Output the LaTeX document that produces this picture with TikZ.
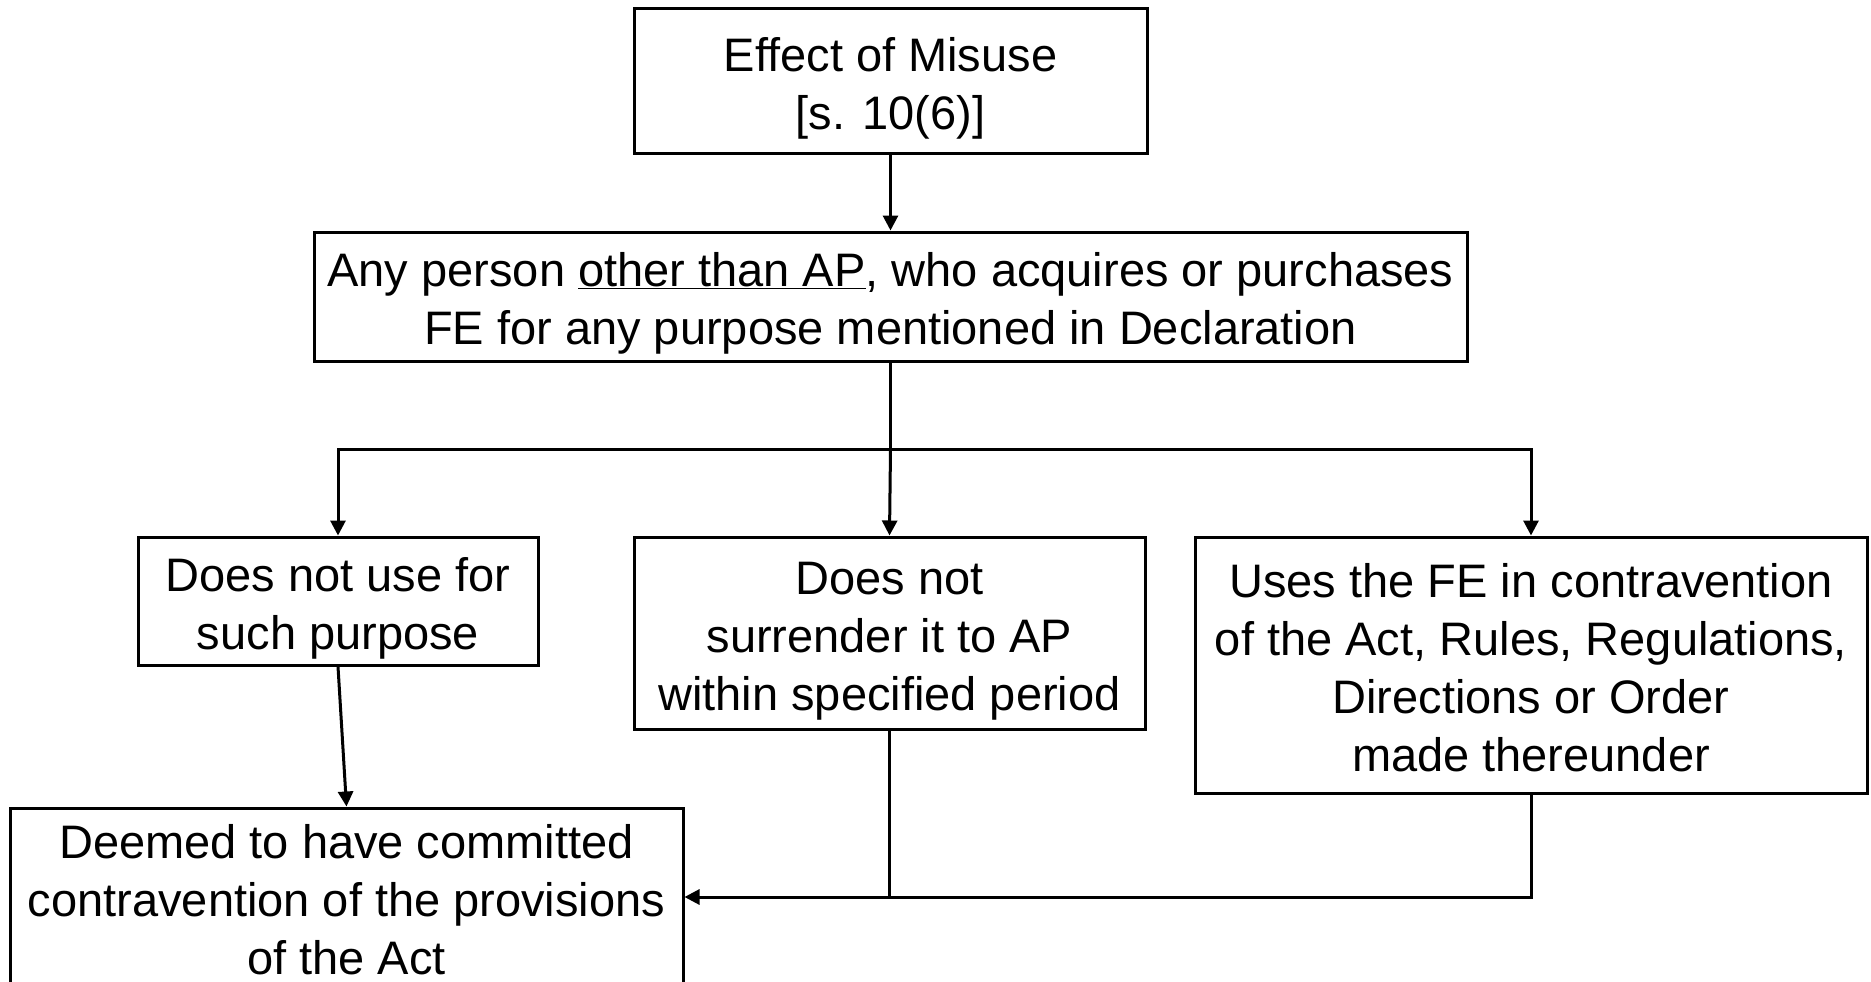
\documentclass[tikz,border=0pt]{standalone}
\usepackage{fontspec}
\setmainfont{Liberation Sans}
\usetikzlibrary{arrows.meta}
\newcommand\myhs{\rule{0pt}{50pt}}
\newcommand\myds{\rule[-12pt]{0pt}{12pt}}
\begin{document}
\begin{tikzpicture}[x=1pt,y=-1pt,
  box/.style={draw=black, line width=3pt, inner sep=0pt, align=center,
    font=\fontsize{47}{58}\selectfont},
  conn/.style={line width=3pt, draw=black},
  arr/.style={conn, -{Triangle[length=15pt,width=15pt]}}]
\useasboundingbox (0,0) rectangle (1871,982);
\fill[white] (0,0) rectangle (1871,982);
\node[box, minimum width=513pt, minimum height=144pt] (top) at (890.5,81) {\myhs Effect of Misuse\\{[}s. 10(6)]\myds};
\node[box, minimum width=1153pt, minimum height=129pt] (any) at (890.5,296.5) {\myhs Any person \underline{other than AP}, who acquires or purchases\\FE for any purpose mentioned in Declaration\myds};
\node[box, minimum width=400pt, minimum height=128pt] (L) at (338,601) {\myhs Does not use for \\such purpose\myds};
\node[box, minimum width=511pt, minimum height=192pt] (M) at (889.5,633) {\myhs Does not\\surrender it to AP\\within specified period\myds};
\node[box, minimum width=672pt, minimum height=256pt] (R) at (1531,665) {\myhs Uses the FE in contravention\\of the Act, Rules, Regulations,\\Directions or Order\\made thereunder\myds};
\node[box, minimum width=673pt, minimum height=176pt] (D) at (346.5,897) {\myhs Deemed to have committed\\contravention of the provisions\\of the Act\myds};
\coordinate (bus) at (890.5,449);
\draw[arr] (top.south) -- (any.north);
\draw[conn] (any.south) -- (bus);
\draw[arr] (bus) -| (L.north);
\draw[arr] (bus) -- (M.north);
\draw[arr] (bus) -| (R.north);
\draw[arr] (L.south) -- (D.north);
\draw[conn] (M.south) -- (M.south |- D.east);
\draw[arr] (R.south) |- (D.east);
\end{tikzpicture}
\end{document}
